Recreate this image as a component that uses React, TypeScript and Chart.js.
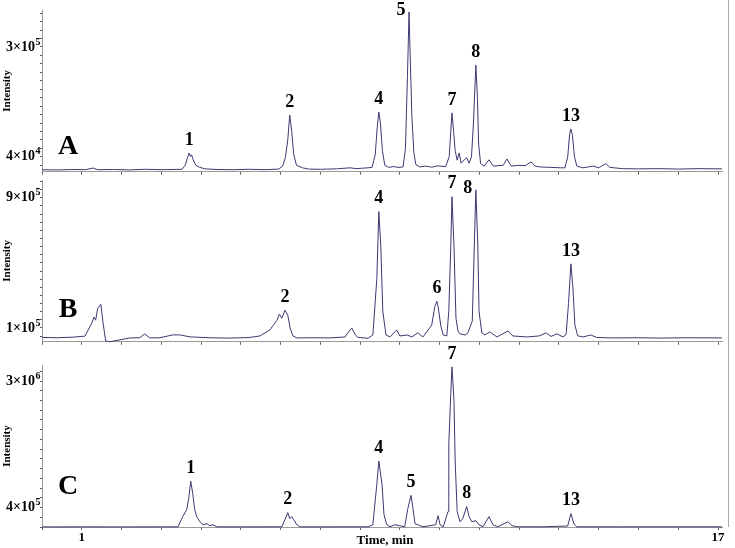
import React, { useEffect, useRef } from "react";
import { Chart, registerables } from "chart.js";

Chart.register(...registerables);

// ---------- DATA (retention time in min, intensity in counts) ----------
const timeA = [
  0.0, 0.4, 0.8, 1.1, 1.28, 1.4, 1.8, 2.2, 2.6, 3.0, 3.3, 3.52, 3.6, 3.66, 3.7, 3.73, 3.76, 3.8, 3.87, 3.97,
  4.1, 4.4, 4.8, 5.2, 5.6, 5.95, 6.05, 6.12, 6.18, 6.23, 6.28, 6.33, 6.4, 6.55, 6.7, 7.0, 7.4, 7.75, 7.9, 8.2,
  8.3, 8.38, 8.43, 8.47, 8.51, 8.56, 8.62, 8.72, 8.85, 8.95, 9.08, 9.14, 9.19, 9.23, 9.26, 9.3, 9.35, 9.4, 9.5, 9.65,
  9.8, 9.95, 10.15, 10.24, 10.28, 10.31, 10.35, 10.39, 10.44, 10.49, 10.54, 10.62, 10.68, 10.74, 10.8, 10.85, 10.91, 10.95, 10.98, 11.03,
  11.12, 11.24, 11.35, 11.47, 11.6, 11.69, 11.8, 12.0, 12.15, 12.3, 12.4, 12.53, 12.8, 13.03, 13.15, 13.22, 13.27, 13.3, 13.34, 13.39,
  13.45, 13.6, 13.86, 14.0, 14.18, 14.28, 14.6, 15.0, 15.5, 16.0, 16.5, 17.1,
];
const intensityA = [
  9500, 9000, 10000, 9500, 13500, 9500, 10000, 9000, 10500, 9500, 10000, 10500, 20000, 38000, 49000, 41000, 45000, 33000, 20000, 15000,
  11500, 10000, 9500, 10500, 9500, 11000, 18000, 38000, 80000, 139000, 100000, 45000, 20000, 14000, 11000, 10500, 11500, 14000, 12000, 14000,
  15000, 45000, 110000, 146000, 120000, 55000, 20000, 15000, 17000, 15000, 16000, 60000, 230000, 383000, 276000, 140000, 50000, 22000, 16000, 18000,
  15500, 18500, 17000, 40000, 100000, 144000, 100000, 55000, 32000, 49000, 25000, 33000, 38000, 25000, 40000, 120000, 257000, 180000, 70000, 24000,
  18000, 33000, 18000, 19000, 20000, 35000, 18000, 20000, 19000, 28000, 18000, 16000, 15000, 14000, 14000, 40000, 95000, 106000, 90000, 40000,
  18000, 14000, 18000, 14000, 24000, 15000, 12000, 11500, 12000, 11000, 12000, 11500,
];

const timeB = [
  0.0, 0.4, 0.8, 1.08, 1.25, 1.31, 1.35, 1.4, 1.48, 1.53, 1.6, 1.7, 1.96, 2.21, 2.46, 2.58, 2.71, 2.96, 3.29, 3.46,
  3.72, 4.2, 4.7, 5.2, 5.48, 5.73, 5.91, 5.97, 6.03, 6.11, 6.18, 6.24, 6.31, 6.41, 6.8, 7.24, 7.62, 7.72, 7.79, 7.88,
  7.95, 8.2, 8.32, 8.42, 8.47, 8.52, 8.57, 8.65, 8.75, 8.92, 9.0, 9.18, 9.3, 9.45, 9.58, 9.8, 9.88, 9.93, 9.96, 10.03,
  10.09, 10.18, 10.23, 10.28, 10.31, 10.36, 10.41, 10.46, 10.51, 10.64, 10.71, 10.82, 10.86, 10.91, 10.96, 10.99, 11.06, 11.14, 11.26, 11.44,
  11.72, 11.84, 12.19, 12.5, 12.68, 12.8, 12.95, 13.1, 13.18, 13.24, 13.3, 13.35, 13.4, 13.47, 13.6, 13.8, 13.95, 14.3, 15.0, 15.6,
  16.2, 17.1,
];
const intensityB = [
  42000, 40000, 44000, 50000, 130000, 167000, 148000, 221000, 245000, 142000, 21000, 15000, 27000, 39000, 40000, 64000, 39000, 40000, 57600, 57600,
  45500, 40000, 38000, 41000, 51000, 88000, 148000, 185000, 160000, 209000, 179000, 100000, 51000, 39000, 40000, 39000, 45000, 80000, 100000, 57000,
  42000, 37000, 57000, 403000, 815000, 603000, 203000, 57000, 45000, 88000, 51000, 57000, 45000, 70000, 45000, 118000, 233000, 264000, 233000, 112000,
  57000, 51000, 203000, 603000, 906000, 603000, 160000, 82000, 64000, 57000, 70000, 142000, 506000, 948000, 603000, 203000, 70000, 57000, 76000, 45000,
  82000, 51000, 45000, 51000, 70000, 48000, 64000, 45000, 60000, 250000, 494000, 350000, 120000, 52000, 45000, 57000, 42000, 39000, 40000, 38000,
  40000, 39000,
];

const timeC = [
  0.0, 1.0, 2.0, 3.0, 3.42, 3.54, 3.64, 3.69, 3.74, 3.79, 3.84, 3.89, 3.97, 4.05, 4.15, 4.22, 4.3, 4.4, 5.0, 5.6,
  6.03, 6.11, 6.18, 6.23, 6.28, 6.33, 6.41, 6.49, 7.2, 8.2, 8.32, 8.42, 8.47, 8.55, 8.6, 8.67, 8.75, 8.87, 9.0, 9.12,
  9.2, 9.28, 9.33, 9.38, 9.45, 9.58, 9.9, 9.96, 10.01, 10.09, 10.21, 10.23, 10.28, 10.31, 10.36, 10.39, 10.44, 10.51, 10.58, 10.68,
  10.74, 10.81, 10.91, 10.99, 11.09, 11.24, 11.34, 11.46, 11.72, 11.82, 11.95, 12.6, 13.22, 13.3, 13.38, 13.45, 14.5, 15.5, 17.1,
];
const intensityC = [
  2000, 3000, 2000, 3000, 3000, 213000, 358000, 587000, 941000, 691000, 358000, 213000, 109000, 46000, 67000, 25000, 46000, 3000, 3000, 3000,
  4000, 150000, 296000, 171000, 213000, 150000, 46000, 3000, 3000, 4000, 46000, 878000, 1357000, 878000, 254000, 46000, 5000, 46000, 25000, 5000,
  379000, 650000, 379000, 67000, 46000, 5000, 46000, 233000, 46000, 5000, 317000, 1710000, 2750000, 3291000, 2605000, 1357000, 317000, 109000, 171000, 421000,
  213000, 109000, 130000, 46000, 5000, 213000, 46000, 5000, 109000, 25000, 5000, 4000, 20000, 275000, 60000, 4000, 3000, 4000, 3000,
];

const peakLabelsA = ["1", "2", "4", "5", "7", "8", "13"];
const peakTimesA = [3.7, 6.23, 8.47, 9.23, 10.31, 10.91, 13.3];
const peakLabelsB = ["2", "4", "6", "7", "8", "13"];
const peakTimesB = [6.11, 8.47, 9.93, 10.31, 10.91, 13.3];
const peakLabelsC = ["1", "2", "4", "5", "7", "8", "13"];
const peakTimesC = [3.74, 6.18, 8.47, 9.28, 10.31, 10.68, 13.3];

const yTicksA = [40000, 300000];
const yTickTextA = ["4×10⁴", "3×10⁵"];
const yTicksB = [100000, 900000];
const yTickTextB = ["1×10⁵", "9×10⁵"];
const yTicksC = [400000, 3000000];
const yTickTextC = ["4×10⁵", "3×10⁶"];

const xTickValues = [1, 17];
const xTickText = ["1", "17"];

const panelLetters = ["A", "B", "C"];
const xTitle = "Time, min";
const yTitle = "Intensity";

// ---------- LAYOUT ----------
const SERIF = "'Liberation Serif', 'Times New Roman', serif";
const LINE_COLOR = "#3a3a72";
const AXIS_COLOR = "#9a9a9a";
const SUP = "⁰¹²³⁴⁵⁶⁷⁸⁹";

type Panel = {
  time: number[];
  intensity: number[];
  peakLabels: string[];
  peakTimes: number[];
  yTicks: number[];
  yTickText: string[];
  yMin: number;
  yMax: number;
  minorStep: number;
  letter: string;
  letterOffset: number;
  top: number;
  height: number;
  padTop: number;
  xAxisH: number;
  showX: boolean;
};

const panels: Panel[] = [
  {
    time: timeA, intensity: intensityA, peakLabels: peakLabelsA, peakTimes: peakTimesA,
    yTicks: yTicksA, yTickText: yTickTextA, yMin: 4540, yMax: 387500, minorStep: 20000,
    letter: panelLetters[0], letterOffset: 25, top: 0, height: 180, padTop: 10, xAxisH: 8, showX: false,
  },
  {
    time: timeB, intensity: intensityB, peakLabels: peakLabelsB, peakTimes: peakTimesB,
    yTicks: yTicksB, yTickText: yTickTextB, yMin: 15150, yMax: 1009150, minorStep: 50000,
    letter: panelLetters[1], letterOffset: 32, top: 170, height: 180, padTop: 10, xAxisH: 6, showX: false,
  },
  {
    time: timeC, intensity: intensityC, peakLabels: peakLabelsC, peakTimes: peakTimesC,
    yTicks: yTicksC, yTickText: yTickTextC, yMin: 0, yMax: 3330000, minorStep: 200000,
    letter: panelLetters[2], letterOffset: 40, top: 342, height: 206, padTop: 23, xAxisH: 21, showX: true,
  },
];

function drawSciLabel(ctx: CanvasRenderingContext2D, text: string, right: number, y: number) {
  let i = text.length;
  while (i > 0 && SUP.includes(text[i - 1])) i--;
  const base = text.slice(0, i);
  const exp = text
    .slice(i)
    .split("")
    .map((c) => String(SUP.indexOf(c)))
    .join("");
  ctx.font = `bold 10px ${SERIF}`;
  const wExp = ctx.measureText(exp).width;
  ctx.font = `bold 14px ${SERIF}`;
  const wBase = ctx.measureText(base).width;
  ctx.textAlign = "left";
  ctx.textBaseline = "middle";
  const x0 = right - wExp - wBase;
  ctx.fillText(base, x0, y);
  ctx.font = `bold 10px ${SERIF}`;
  ctx.fillText(exp, x0 + wBase + 0.5, y - 5);
}

function makeChart(canvas: HTMLCanvasElement, p: Panel): Chart {
  const annot = {
    id: "annot",
    afterDatasetsDraw(chart: any) {
      const ctx = chart.ctx as CanvasRenderingContext2D;
      const xs = chart.scales.x;
      const ys = chart.scales.y;
      const area = chart.chartArea;
      ctx.save();
      ctx.fillStyle = "#000";
      // y tick labels with superscript exponent
      p.yTicks.forEach((v, i) => {
        drawSciLabel(ctx, p.yTickText[i], 40, ys.getPixelForValue(v));
      });
      ctx.textAlign = "center";
      ctx.textBaseline = "middle";
      ctx.font = `bold 18px ${SERIF}`;
      p.peakLabels.forEach((lab, i) => {
        const t = p.peakTimes[i];
        let peak = -Infinity;
        p.time.forEach((tt, j) => {
          if (Math.abs(tt - t) <= 0.05) peak = Math.max(peak, p.intensity[j]);
        });
        let x = xs.getPixelForValue(t);
        const yApex = ys.getPixelForValue(peak);
        let y = yApex - 13;
        // not enough room above the apex on this canvas: put the label beside the peak
        if (y < 9) {
          x -= 8;
          y = yApex - 2;
        }
        ctx.fillText(lab, x, y);
      });
      ctx.font = `bold 28px ${SERIF}`;
      ctx.fillText(p.letter, 68, area.bottom - p.letterOffset);
      if (p.showX) {
        ctx.font = `bold 13px ${SERIF}`;
        ctx.fillText(xTitle, 385, area.bottom + 14);
      }
      ctx.restore();
    },
  };

  return new Chart(canvas, {
    type: "line",
    data: {
      datasets: [
        {
          data: p.time.map((t, i) => ({ x: t, y: p.intensity[i] })),
          borderColor: LINE_COLOR,
          borderWidth: 1,
          pointRadius: 0,
          tension: 0,
          fill: false,
          clip: 2,
        },
      ],
    },
    options: {
      responsive: false,
      animation: false,
      layout: { padding: { top: p.padTop, right: 13, left: 0, bottom: 0 } },
      plugins: { legend: { display: false }, tooltip: { enabled: false } },
      scales: {
        x: {
          type: "linear",
          min: 0,
          max: 17.1,
          afterFit: (s: any) => {
            s.height = p.xAxisH;
          },
          afterBuildTicks: (s: any) => {
            const arr = [];
            for (let v = 0; v <= 17; v++) arr.push({ value: v });
            s.ticks = arr;
          },
          border: { color: AXIS_COLOR, width: 1 },
          grid: { drawOnChartArea: false, drawTicks: true, tickLength: 3, tickColor: "#666" },
          ticks: {
            display: p.showX,
            padding: 0,
            autoSkip: false,
            maxRotation: 0,
            color: "#000",
            font: { family: SERIF, size: 13, weight: "bold" },
            callback: (v: any) => {
              const k = xTickValues.indexOf(Number(v));
              return k >= 0 ? xTickText[k] : "";
            },
          },
        },
        y: {
          type: "linear",
          min: p.yMin,
          max: p.yMax,
          afterFit: (s: any) => {
            s.width = 42;
          },
          afterBuildTicks: (s: any) => {
            const vals: number[] = [...p.yTicks];
            const start = Math.ceil(p.yMin / p.minorStep) * p.minorStep;
            for (let v = start; v <= p.yMax; v += p.minorStep) {
              if (!vals.includes(v)) vals.push(v);
            }
            vals.sort((a, b) => a - b);
            s.ticks = vals.map((v) => ({ value: v }));
          },
          border: { color: AXIS_COLOR, width: 1 },
          grid: { drawOnChartArea: false, drawTicks: true, tickLength: 2, tickColor: "#555" },
          title: {
            display: true,
            text: yTitle,
            color: "#000",
            font: { family: SERIF, size: 11, weight: "bold" },
            padding: { top: 1, bottom: 0 },
          },
          ticks: {
            padding: 1,
            autoSkip: false,
            color: "#000",
            font: { family: SERIF, size: 12, weight: "bold" },
            callback: () => "",
          },
        },
      },
    },
    plugins: [annot],
  } as any);
}

function PanelChart({ p }: { p: Panel }) {
  const ref = useRef<HTMLCanvasElement>(null);
  useEffect(() => {
    if (!ref.current) return;
    const chart = makeChart(ref.current, p);
    return () => chart.destroy();
  }, [p]);
  return (
    <canvas
      ref={ref}
      width={735}
      height={p.height}
      style={{ position: "absolute", left: 0, top: p.top, width: 735, height: p.height }}
    />
  );
}

export default function App() {
  return (
    <div style={{ position: "absolute", left: 0, top: 0, width: 735, height: 548, background: "#fff", overflow: "hidden" }}>
      {panels.map((p, i) => (
        <PanelChart key={i} p={p} />
      ))}
      <div style={{ position: "absolute", left: 728, top: 0, width: 1, height: 527, background: "#a8a8a8" }} />
    </div>
  );
}
